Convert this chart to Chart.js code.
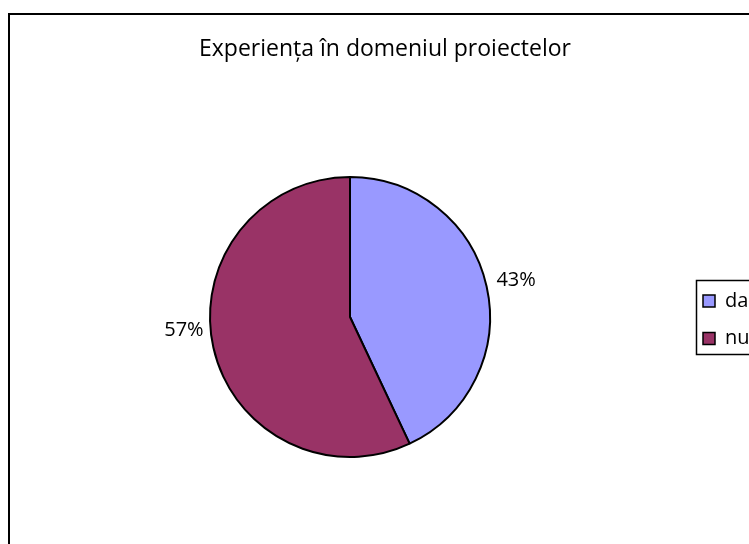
<!DOCTYPE html>
<html>
<head>
<meta charset="utf-8">
<script src="https://cdn.jsdelivr.net/npm/chart.js@4/dist/chart.umd.min.js"></script>
<style>
    html, body { margin: 0; padding: 0; background: #fff; }
    #wrap { width: 749px; height: 544px; position: relative; overflow: hidden; }
</style>
</head>
<body>
<div id="wrap"><canvas id="pieChart" width="749" height="544"></canvas></div>
<script>
// Chart data
const chartTitle = 'Experiența în domeniul proiectelor';
const categories = ['da', 'nu'];
const shares = [43, 57];
const sliceColors = ['#9999FF', '#993366'];

const fontFamily = '"Open Sans", "Noto Sans", sans-serif';

// small nudges so the labels sit where the original put them
const labelNudgeY = [-4, -19];

// Draws frame, title, percentage labels and the boxed legend
const decorPlugin = {
    id: 'decor',
    afterDraw(chart) {
        const ctx = chart.ctx;
        ctx.save();

        // outer frame (runs off the right and bottom edges)
        ctx.strokeStyle = '#000';
        ctx.lineWidth = 2;
        ctx.strokeRect(9, 14, 780, 560);

        // title
        ctx.fillStyle = '#000';
        ctx.font = '23px ' + fontFamily;
        ctx.textAlign = 'center';
        ctx.textBaseline = 'middle';
        ctx.fillText(chartTitle, 385, 49);

        // percentage labels outside the slices
        const meta = chart.getDatasetMeta(0);
        const total = shares.reduce((a, b) => a + b, 0);
        ctx.font = '20px ' + fontFamily;
        meta.data.forEach(function(arc, i) {
            const p = arc.getProps(['x', 'y', 'startAngle', 'endAngle', 'outerRadius'], true);
            const mid = (p.startAngle + p.endAngle) / 2;
            const r = p.outerRadius + 10;
            const px = p.x + Math.cos(mid) * r;
            const py = p.y + Math.sin(mid) * r + labelNudgeY[i];
            ctx.textAlign = Math.cos(mid) >= 0 ? 'left' : 'right';
            ctx.fillText(Math.round(shares[i] / total * 100) + '%', px, py);
        });

        // legend box
        ctx.lineWidth = 1.5;
        ctx.strokeRect(696.5, 280.5, 100, 74);
        ctx.textAlign = 'left';
        categories.forEach(function(name, i) {
            const y = 295 + i * 37.5;
            ctx.fillStyle = sliceColors[i];
            ctx.fillRect(703, y, 12, 12);
            ctx.strokeStyle = '#000';
            ctx.strokeRect(703, y, 12, 12);
            ctx.fillStyle = '#000';
            ctx.fillText(name, 725, y + 6);
        });

        ctx.restore();
    }
};

// Initialize chart
const pieCtx = document.getElementById('pieChart').getContext('2d');
const pieChart = new Chart(pieCtx, {
    type: 'pie',
    data: {
        labels: categories,
        datasets: [{
            data: shares,
            backgroundColor: sliceColors,
            borderColor: '#000',
            borderWidth: 2
        }]
    },
    options: {
        responsive: false,
        animation: false,
        layout: {
            padding: { left: 209, right: 258, top: 176, bottom: 86 }
        },
        plugins: {
            legend: { display: false },
            tooltip: { enabled: false },
            title: { display: false }
        }
    },
    plugins: [decorPlugin]
});
</script>
</body>
</html>
